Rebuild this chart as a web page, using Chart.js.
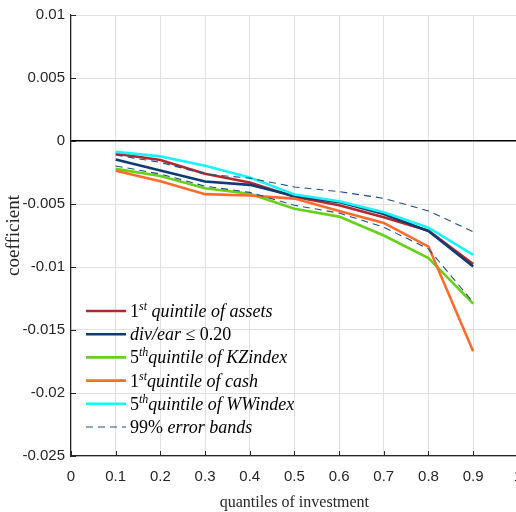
<!DOCTYPE html>
<html><head><meta charset="utf-8">
<script src="https://cdn.jsdelivr.net/npm/chart.js@4/dist/chart.umd.min.js"></script>
<style>
html,body{margin:0;padding:0;overflow:hidden;background:#fff}
#wrap{width:534px;height:512px;position:relative}
</style></head><body>
<div id="wrap"><canvas id="c"></canvas></div>
<script>
const quantiles = [0.1,0.2,0.3,0.4,0.5,0.6,0.7,0.8,0.9];
const assets1st = [-0.00100,-0.00150,-0.00260,-0.00330,-0.00443,-0.00510,-0.00605,-0.00712,-0.00976];
const divEar    = [-0.00147,-0.00235,-0.00322,-0.00348,-0.00437,-0.00485,-0.00579,-0.00715,-0.00996];
const kz5th     = [-0.00221,-0.00278,-0.00375,-0.00418,-0.00537,-0.00600,-0.00750,-0.00930,-0.01290];
const cash1st   = [-0.00236,-0.00320,-0.00422,-0.00432,-0.00457,-0.00555,-0.00650,-0.00838,-0.01668];
const ww5th     = [-0.00086,-0.00122,-0.00196,-0.00290,-0.00425,-0.00478,-0.00566,-0.00688,-0.00904];
const bandUpper = [-0.00111,-0.00170,-0.00262,-0.00295,-0.00365,-0.00402,-0.00455,-0.00555,-0.00720];
const bandLower = [-0.00198,-0.00262,-0.00358,-0.00408,-0.00510,-0.00572,-0.00684,-0.00856,-0.01280];
const xTickLabels = ['0','0.1','0.2','0.3','0.4','0.5','0.6','0.7','0.8','0.9','1'];
const yTickLabels = ['0.01','0.005','0','-0.005','-0.01','-0.015','-0.02','-0.025'];
const seriesNames = ['1st quintile of assets','div/ear ≤ 0.20','5th quintile of KZindex','1st quintile of cash','5th quintile of WWindex','99% error bands'];
const colors = ['#b3282b','#0d3b73','#66d01b','#ff6b2b','#17f5f8','#1f4f86'];

// rich legend text parts: [text, kind] kind: 'i' italic, 'r' roman, 's' superscript italic
const legendParts = [
  [['1','r'],['st','s'],[' quintile of assets','i']],
  [['div/ear','i'],[' ≤ 0.20','r']],
  [['5','r'],['th','s'],['quintile of ','i'],['KZindex','i']],
  [['1','r'],['st','s'],['quintile of cash','i']],
  [['5','r'],['th','s'],['quintile of ','i'],['WWindex','i']],
  [['99%','r'],[' error bands','i']]
];

const pts = arr => arr.map((v,i)=>({x:quantiles[i], y:v}));
const mk = (label, data, color, order, dashed) => ({
  label, data: pts(data), borderColor: color, backgroundColor: color,
  borderWidth: dashed ? 1.1 : 2.6, borderDash: dashed ? [7,5] : [],
  pointRadius: 0, tension: 0, fill: false, order
});

const datasets = [
  mk(seriesNames[0], assets1st, colors[0], 9, false),
  mk(seriesNames[1], divEar, colors[1], 8, false),
  mk(seriesNames[2], kz5th, colors[2], 7, false),
  mk(seriesNames[3], cash1st, colors[3], 6, false),
  mk(seriesNames[4], ww5th, colors[4], 5, false),
  mk(seriesNames[5], bandUpper, colors[5], 4, true),
  mk(seriesNames[5]+' (lower)', bandLower, colors[5], 3, true)
];

const tickFont = {family:"'Liberation Sans Narrow','Liberation Sans',Arial,sans-serif", size:15};

const innerTicks = {
  id:'innerTicks',
  afterDatasetsDraw(chart){
    const {ctx, chartArea:a, scales:{x,y}} = chart;
    ctx.save();
    ctx.strokeStyle = '#262626'; ctx.lineWidth = 1;
    x.ticks.forEach(t=>{ const px = Math.round(x.getPixelForValue(t.value))+0.5;
      ctx.beginPath(); ctx.moveTo(px,a.bottom); ctx.lineTo(px,a.bottom-5); ctx.stroke(); });
    y.ticks.forEach(t=>{ const py = Math.round(y.getPixelForValue(t.value))+0.5;
      ctx.beginPath(); ctx.moveTo(a.left,py); ctx.lineTo(a.left+5,py); ctx.stroke(); });
    ctx.restore();
  }
};

const richLegend = {
  id:'richLegend',
  afterDraw(chart){
    const {ctx, chartArea:a} = chart;
    ctx.save();
    const x0 = a.left + 15, x1 = a.left + 55, tx = a.left + 59;
    const fam = "'Liberation Serif','Times New Roman',serif";
    legendParts.forEach((parts, i) => {
      const yy = a.bottom - 145 + i*23.2;
      const dsColor = colors[i];
      ctx.strokeStyle = dsColor;
      ctx.lineWidth = i===5 ? 1.1 : 2.6;
      ctx.setLineDash(i===5 ? [7,5] : []);
      ctx.beginPath(); ctx.moveTo(x0,yy); ctx.lineTo(x1,yy); ctx.stroke();
      ctx.setLineDash([]);
      let cx = tx;
      ctx.fillStyle = '#000';
      ctx.textBaseline = 'alphabetic';
      ctx.textAlign = 'left';
      parts.forEach(([t,k])=>{
        if (k==='s'){ ctx.font = `italic 12px ${fam}`; ctx.fillText(t, cx, yy-1); }
        else { ctx.font = (k==='i' ? 'italic ' : '') + `18px ${fam}`; ctx.fillText(t, cx, yy+6); }
        cx += ctx.measureText(t).width;
      });
    });
    ctx.restore();
  }
};

new Chart(document.getElementById('c'), {
  type:'line',
  data:{datasets},
  plugins:[innerTicks, richLegend],
  options:{
    responsive:true, maintainAspectRatio:false, animation:false,
    layout:{padding:{top:13,right:4,left:0,bottom:0}},
    plugins:{legend:{display:false}, tooltip:{enabled:false}},
    scales:{
      x:{type:'linear', min:0, max:1,
        afterFit: s => { s.height = 56; },
        ticks:{stepSize:0.1, color:'#262626', font:tickFont, padding:12, maxRotation:0,
          callback:(v,i)=>xTickLabels[i]},
        grid:{color:'#e0e0e0', lineWidth:1, drawTicks:false},
        border:{display:true, color:'#262626', width:1.2},
        title:{display:true, text:'quantiles of investment', color:'#262626',
          font:{family:"'Liberation Serif','Times New Roman',serif", size:16}, padding:{top:0,bottom:0}}
      },
      y:{type:'linear', min:-0.025, max:0.01,
        afterFit: s => { s.width = 71; },
        ticks:{stepSize:0.005, color:'#262626', font:tickFont, padding:6,
          callback:(v,i,arr)=>yTickLabels[arr.length-1-i]},
        grid:{color: c => (c.tick && Math.abs(c.tick.value) < 1e-12) ? '#000' : '#e0e0e0',
              lineWidth: c => (c.tick && Math.abs(c.tick.value) < 1e-12) ? 1.4 : 1, drawTicks:false},
        border:{display:true, color:'#262626', width:1.2},
        title:{display:true, text:'coefficient', color:'#262626',
          font:{family:"'Liberation Serif','Times New Roman',serif", size:19}, padding:{top:3,bottom:0}}
      }
    }
  }
});
</script>
</body></html>
